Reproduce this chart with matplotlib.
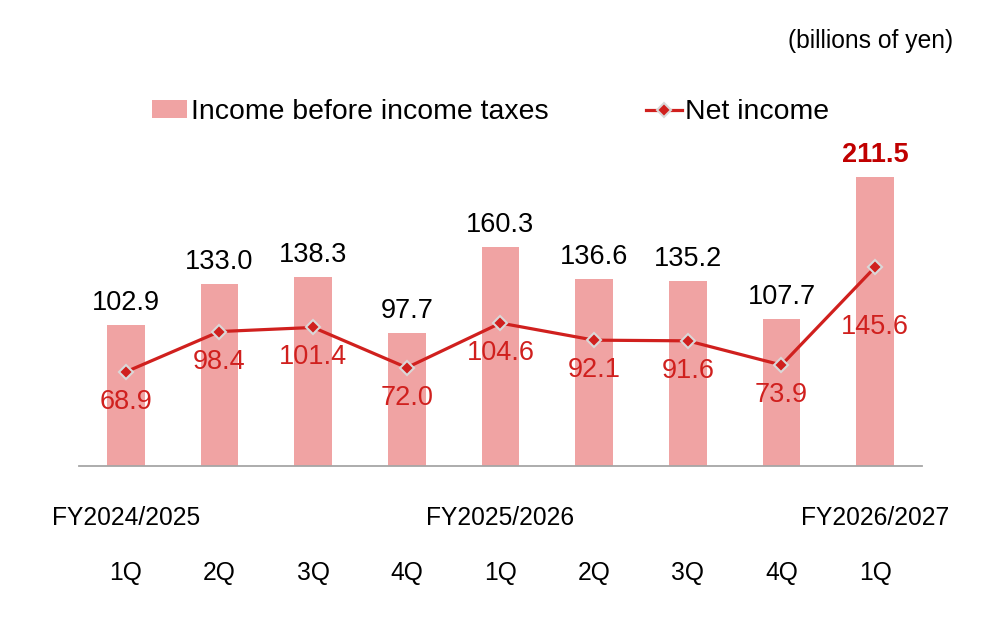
import numpy as np
import matplotlib.pyplot as plt

plt.rcParams['font.family'] = ['Liberation Sans', 'DejaVu Sans']

quarters = ['1Q', '2Q', '3Q', '4Q', '1Q', '2Q', '3Q', '4Q', '1Q']
fiscal_years = ['FY2024/2025', 'FY2025/2026', 'FY2026/2027']
fy_start = [0, 4, 8]
income_before_tax = [102.9, 133.0, 138.3, 97.7, 160.3, 136.6, 135.2, 107.7, 211.5]
net_income = [68.9, 98.4, 101.4, 72.0, 104.6, 92.1, 91.6, 73.9, 145.6]

bar_color = '#F0A3A3'
line_color = '#D0201E'

fig = plt.figure(figsize=(10, 6.18), dpi=100)
ax = fig.add_axes([0.079, 0.246, 0.843, 406 / 618])

x = np.arange(len(quarters))
bars = ax.bar(x, income_before_tax, width=0.405, color=bar_color,
              label='Income before income taxes', zorder=1)
line, = ax.plot(x, net_income, color=line_color, lw=2.3, marker='D', ms=7,
                mfc=line_color, mec='#D9D9D9', mew=1.5, label='Net income', zorder=3)

ax.set_xlim(-0.5, len(quarters) - 0.5)
ax.set_ylim(0, 297.2)

for side in ['left', 'right', 'top']:
    ax.spines[side].set_visible(False)
ax.spines['bottom'].set_color('#A6A6A6')
ax.spines['bottom'].set_linewidth(1.3)
ax.set_xticks([])
ax.set_yticks([])

# bar labels
last = len(quarters) - 1
for i, v in enumerate(income_before_tax):
    if i == last:
        ax.annotate(f'{v:.1f}', (i, v), xytext=(0, 22), textcoords='offset pixels',
                    ha='center', va='center', fontsize=19.5, fontweight='bold',
                    color='#C00000')
    else:
        ax.annotate(f'{v:.1f}', (i, v), xytext=(0, 22), textcoords='offset pixels',
                    ha='center', va='center', fontsize=19.5, color='black')

# line labels
for i, v in enumerate(net_income):
    dy = -60 if i == last else -30
    ax.annotate(f'{v:.1f}', (i, v), xytext=(0, dy), textcoords='offset pixels',
                ha='center', va='center', fontsize=19.5, color=line_color)

# category labels
trans = ax.get_xaxis_transform()
for i, q in enumerate(quarters):
    ax.text(i, -107 / 406, q, transform=trans, ha='center', va='center', fontsize=17.7)
for fy, s in zip(fiscal_years, fy_start):
    ax.text(s, -52 / 406, fy, transform=trans, ha='center', va='center', fontsize=17.7)

fig.text(0.953, 1 - 41 / 618, '(billions of yen)', ha='right', va='center', fontsize=17.7)

fig.legend([bars, line], ['Income before income taxes', 'Net income'],
           loc='center left', bbox_to_anchor=(0.152, 1 - 112 / 618), ncol=2,
           frameon=False, fontsize=20.4, handlelength=1.25, handleheight=0.55,
           handletextpad=0.12, columnspacing=3.45, borderpad=0, borderaxespad=0)

fig.savefig('out.png', dpi=100)
